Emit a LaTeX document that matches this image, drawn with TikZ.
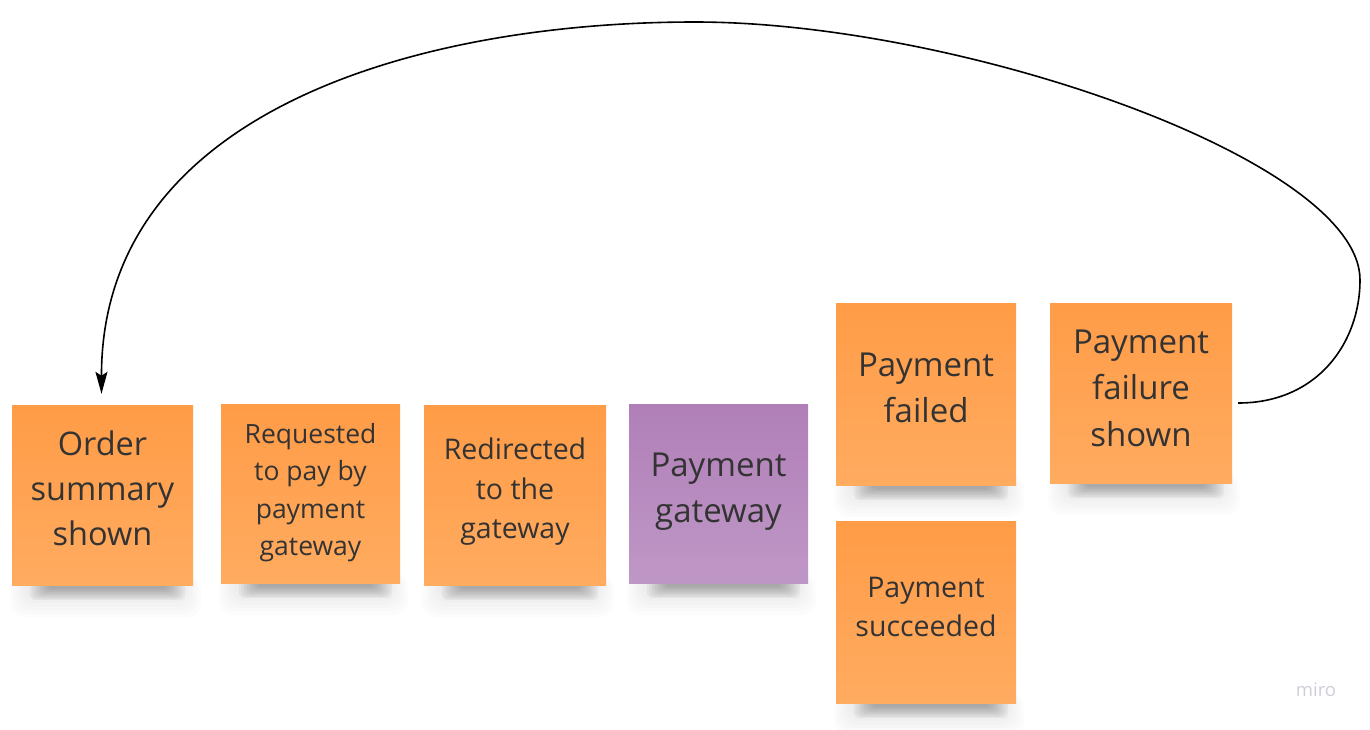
\documentclass[tikz,border=0pt]{standalone}
\usepackage{fontspec}
\setmainfont{Open Sans}
\usetikzlibrary{calc,arrows.meta,backgrounds}
\definecolor{orTop}{HTML}{FF9C47}
\definecolor{orBot}{HTML}{FFAB60}
\definecolor{puTop}{HTML}{B07FB8}
\definecolor{puBot}{HTML}{BF97C6}
\definecolor{txt}{HTML}{333333}
\definecolor{mirogray}{HTML}{CFCFDA}
\tikzset{
  note/.style={rectangle, inner sep=0pt, draw=none,
    top color=orTop, bottom color=orBot},
  purplenote/.style={note, top color=puTop, bottom color=puBot},
  notetext/.style={align=center, text=txt, inner sep=0pt},
  fbig/.style={notetext, font=\fontsize{33}{46.5}\selectfont},
  forder/.style={notetext, font=\fontsize{32.5}{45}\selectfont},
  fmid/.style={notetext, font=\fontsize{28.5}{39.5}\selectfont},
  fsmall/.style={notetext, font=\fontsize{26.5}{37.5}\selectfont},
  link/.style={line width=1.6pt, -{Stealth[length=22pt,width=12pt,inset=4pt]}},
}
\newcommand\noteshadow[1]{%
  \foreach \k in {0,...,5}{%
    \fill[black,opacity=0.012,rounded corners=14]
      ($(#1.south west)+(-2+3*\k,-10)$) rectangle ($(#1.south east)+(8-3*\k,32-3.5*\k)$);}
  \foreach \k in {0,...,7}{%
    \fill[black,opacity=0.04,rounded corners=6]
      ($(#1.south west)+(18+2.5*\k,-6)$) rectangle ($(#1.south east)+(-8-2.5*\k,15-1.6*\k)$);}}
\begin{document}
\begin{tikzpicture}[x=1pt,y=-1pt]
\useasboundingbox (0,0) rectangle (1370,729);

\node[note,minimum width=181,minimum height=180] (o1) at (102.5,495) {};
\node[note,minimum width=179,minimum height=179] (o2) at (310.5,493.5) {};
\node[note,minimum width=182,minimum height=180] (o3) at (515,495) {};
\node[purplenote,minimum width=179,minimum height=179] (pg) at (718.5,493.5) {};
\node[note,minimum width=180,minimum height=182] (pf) at (926,394) {};
\node[note,minimum width=182,minimum height=180] (pfs) at (1141,393) {};
\node[note,minimum width=180,minimum height=182] (ps) at (926,612) {};

\begin{scope}[on background layer]
\fill[white] (0,0) rectangle (1370,729);
\noteshadow{o1}\noteshadow{o2}\noteshadow{o3}\noteshadow{pg}
\noteshadow{pf}\noteshadow{pfs}\noteshadow{ps}
\end{scope}

\node[forder] (o1t) at ($(o1)+(0,-7)$) {Order\\summary\\shown};
\node[fsmall] (o2t) at ($(o2)+(0,-1)$) {Requested\\to pay by\\payment\\gateway};
\node[fmid] (o3t) at ($(o3)+(0,-3)$) {Redirected\\to the\\gateway};
\node[fbig] (pgt) at ($(pg)+(0,-2)$) {Payment\\gateway};
\node[fbig] (pft) at ($(pf)+(0,-6)$) {Payment\\failed};
\node[fbig] (pfst) at ($(pfs)+(0,-5)$) {Payment\\failure\\shown};
\node[fmid] (pst) at ($(ps)+(0,-5)$) {Payment\\succeeded};

\node[text=mirogray,font=\fontsize{18.5}{20}\selectfont] (miro) at (1316,690) {miro};

\coordinate (cs) at ($(pfs.east)+(6,10)$);
\coordinate (ce) at ($(o1.north)+(-1,-11)$);
\draw[link] (cs) .. controls (1318,403) and (1360,342) .. (1360,280)
  .. controls (1360,160) and (960,22) .. (695,22)
  .. controls (420,22) and (101,110) .. (ce);
\end{tikzpicture}
\end{document}
